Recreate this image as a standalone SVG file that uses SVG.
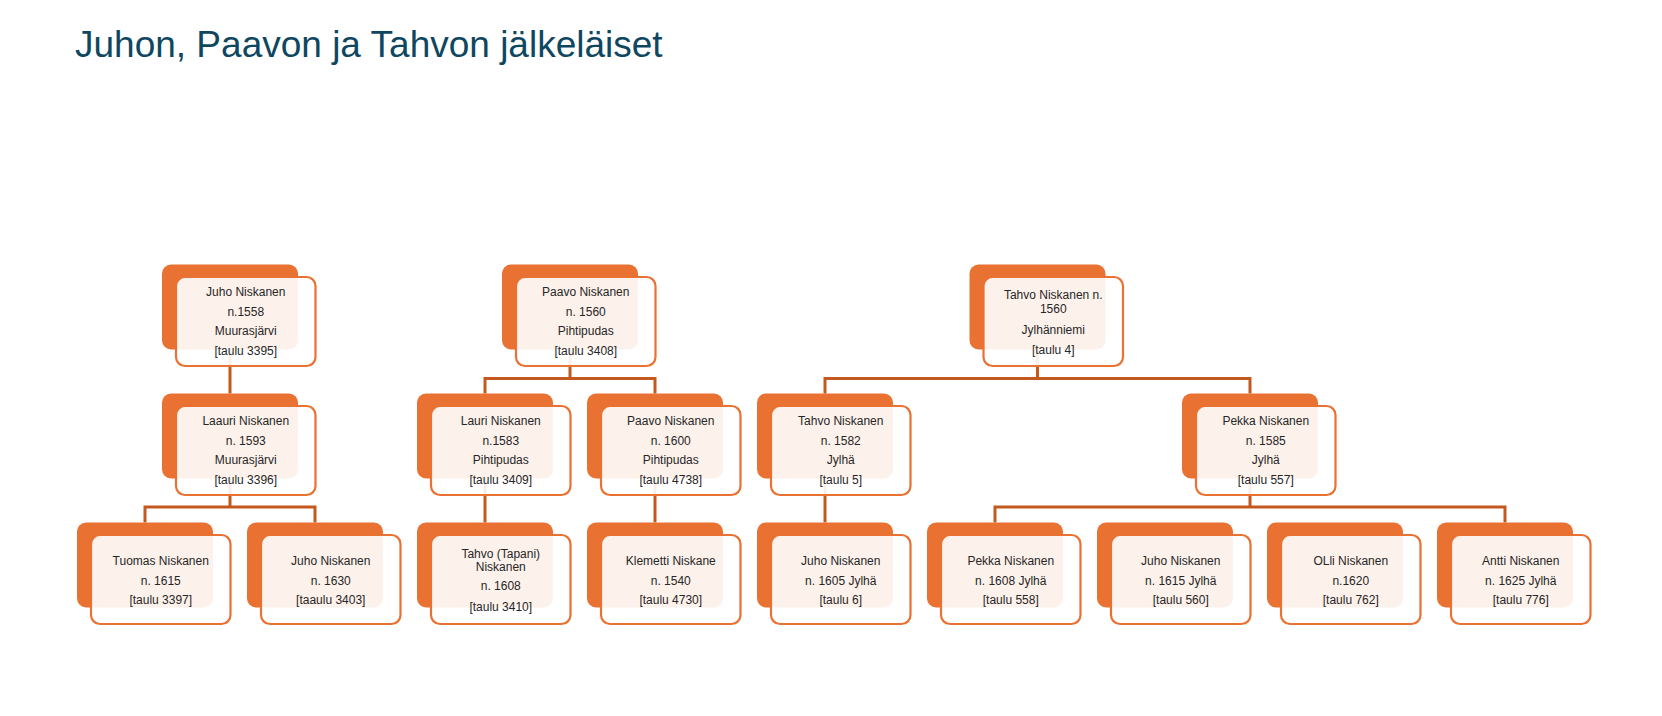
<svg xmlns="http://www.w3.org/2000/svg" width="1662" height="716" viewBox="0 0 1662 716">
<style>
.bk{fill:#E97132}
.fr{fill:#FFFFFF;fill-opacity:0.9;stroke:#E97132;stroke-width:2.2}
.t{font-family:"Liberation Sans",Arial,sans-serif;font-size:12px;fill:#262626;text-anchor:middle}
.title{font-family:"Liberation Sans",Arial,sans-serif;font-size:37px;fill:#0F4761}
.c{fill:none;stroke:#C4591F;stroke-width:3}
</style>
<rect width="1662" height="716" fill="#FFFFFF"/>
<text class="title" x="75" y="57">Juhon, Paavon ja Tahvon jälkeläiset</text>
<g id="connectors">
<path class="c" d="M230 349.5V393.5"/>
<path class="c" d="M570 349.5V378.5M485 393.5V378.5H655V393.5"/>
<path class="c" d="M1037.5 349.5V378.5M825 393.5V378.5H1250V393.5"/>
<path class="c" d="M230 478.5V507M145 522.5V507H315V522.5"/>
<path class="c" d="M485 478.5V522.5"/>
<path class="c" d="M655 478.5V522.5"/>
<path class="c" d="M825 478.5V522.5"/>
<path class="c" d="M1250 478.5V507M995 522.5V507H1505V522.5"/>
</g>
<g id="n-juho">
<rect class="bk" x="162" y="264.5" width="136" height="85" rx="9"/>
<rect class="fr" x="176" y="277" width="139.5" height="89" rx="9"/>
<text class="t"><tspan x="245.75" y="296">Juho Niskanen</tspan><tspan x="245.75" y="315.5">n.1558</tspan><tspan x="245.75" y="335">Muurasjärvi</tspan><tspan x="245.75" y="354.5">[taulu 3395]</tspan></text>
</g>
<g id="n-paavo">
<rect class="bk" x="502" y="264.5" width="136" height="85" rx="9"/>
<rect class="fr" x="516" y="277" width="139.5" height="89" rx="9"/>
<text class="t"><tspan x="585.75" y="296">Paavo Niskanen</tspan><tspan x="585.75" y="315.5">n. 1560</tspan><tspan x="585.75" y="335">Pihtipudas</tspan><tspan x="585.75" y="354.5">[taulu 3408]</tspan></text>
</g>
<g id="n-tahvo">
<rect class="bk" x="969.5" y="264.5" width="136" height="85" rx="9"/>
<rect class="fr" x="983.5" y="277" width="139.5" height="89" rx="9"/>
<text class="t"><tspan x="1053.25" y="299.3">Tahvo Niskanen n.</tspan><tspan x="1053.25" y="313.3">1560</tspan><tspan x="1053.25" y="334.3">Jylhänniemi</tspan><tspan x="1053.25" y="353.6">[taulu 4]</tspan></text>
</g>
<g id="n-laauri">
<rect class="bk" x="162" y="393.5" width="136" height="85" rx="9"/>
<rect class="fr" x="176" y="406" width="139.5" height="89" rx="9"/>
<text class="t"><tspan x="245.75" y="425">Laauri Niskanen</tspan><tspan x="245.75" y="444.5">n. 1593</tspan><tspan x="245.75" y="464">Muurasjärvi</tspan><tspan x="245.75" y="483.5">[taulu 3396]</tspan></text>
</g>
<g id="n-lauri">
<rect class="bk" x="417" y="393.5" width="136" height="85" rx="9"/>
<rect class="fr" x="431" y="406" width="139.5" height="89" rx="9"/>
<text class="t"><tspan x="500.75" y="425">Lauri Niskanen</tspan><tspan x="500.75" y="444.5">n.1583</tspan><tspan x="500.75" y="464">Pihtipudas</tspan><tspan x="500.75" y="483.5">[taulu 3409]</tspan></text>
</g>
<g id="n-paavo2">
<rect class="bk" x="587" y="393.5" width="136" height="85" rx="9"/>
<rect class="fr" x="601" y="406" width="139.5" height="89" rx="9"/>
<text class="t"><tspan x="670.75" y="425">Paavo Niskanen</tspan><tspan x="670.75" y="444.5">n. 1600</tspan><tspan x="670.75" y="464">Pihtipudas</tspan><tspan x="670.75" y="483.5">[taulu 4738]</tspan></text>
</g>
<g id="n-tahvo2">
<rect class="bk" x="757" y="393.5" width="136" height="85" rx="9"/>
<rect class="fr" x="771" y="406" width="139.5" height="89" rx="9"/>
<text class="t"><tspan x="840.75" y="425">Tahvo Niskanen</tspan><tspan x="840.75" y="444.5">n. 1582</tspan><tspan x="840.75" y="464">Jylhä</tspan><tspan x="840.75" y="483.5">[taulu 5]</tspan></text>
</g>
<g id="n-pekka">
<rect class="bk" x="1182" y="393.5" width="136" height="85" rx="9"/>
<rect class="fr" x="1196" y="406" width="139.5" height="89" rx="9"/>
<text class="t"><tspan x="1265.75" y="425">Pekka Niskanen</tspan><tspan x="1265.75" y="444.5">n. 1585</tspan><tspan x="1265.75" y="464">Jylhä</tspan><tspan x="1265.75" y="483.5">[taulu 557]</tspan></text>
</g>
<g id="n-tuomas">
<rect class="bk" x="77" y="522.5" width="136" height="85" rx="9"/>
<rect class="fr" x="91" y="535" width="139.5" height="89" rx="9"/>
<text class="t"><tspan x="160.75" y="565">Tuomas Niskanen</tspan><tspan x="160.75" y="584.5">n. 1615</tspan><tspan x="160.75" y="604">[taulu 3397]</tspan></text>
</g>
<g id="n-juho3">
<rect class="bk" x="247" y="522.5" width="136" height="85" rx="9"/>
<rect class="fr" x="261" y="535" width="139.5" height="89" rx="9"/>
<text class="t"><tspan x="330.75" y="565">Juho Niskanen</tspan><tspan x="330.75" y="584.5">n. 1630</tspan><tspan x="330.75" y="604">[taaulu 3403]</tspan></text>
</g>
<g id="n-tahvo-tapani">
<rect class="bk" x="417" y="522.5" width="136" height="85" rx="9"/>
<rect class="fr" x="431" y="535" width="139.5" height="89" rx="9"/>
<text class="t"><tspan x="500.75" y="557.6">Tahvo (Tapani)</tspan><tspan x="500.75" y="571">Niskanen</tspan><tspan x="500.75" y="590.3">n. 1608</tspan><tspan x="500.75" y="611">[taulu 3410]</tspan></text>
</g>
<g id="n-klemetti">
<rect class="bk" x="587" y="522.5" width="136" height="85" rx="9"/>
<rect class="fr" x="601" y="535" width="139.5" height="89" rx="9"/>
<text class="t"><tspan x="670.75" y="565">Klemetti Niskane</tspan><tspan x="670.75" y="584.5">n. 1540</tspan><tspan x="670.75" y="604">[taulu 4730]</tspan></text>
</g>
<g id="n-juho-jylha">
<rect class="bk" x="757" y="522.5" width="136" height="85" rx="9"/>
<rect class="fr" x="771" y="535" width="139.5" height="89" rx="9"/>
<text class="t"><tspan x="840.75" y="565">Juho Niskanen</tspan><tspan x="840.75" y="584.5">n. 1605 Jylhä</tspan><tspan x="840.75" y="604">[taulu 6]</tspan></text>
</g>
<g id="n-pekka3">
<rect class="bk" x="927" y="522.5" width="136" height="85" rx="9"/>
<rect class="fr" x="941" y="535" width="139.5" height="89" rx="9"/>
<text class="t"><tspan x="1010.75" y="565">Pekka Niskanen</tspan><tspan x="1010.75" y="584.5">n. 1608 Jylhä</tspan><tspan x="1010.75" y="604">[taulu 558]</tspan></text>
</g>
<g id="n-juho4">
<rect class="bk" x="1097" y="522.5" width="136" height="85" rx="9"/>
<rect class="fr" x="1111" y="535" width="139.5" height="89" rx="9"/>
<text class="t"><tspan x="1180.75" y="565">Juho Niskanen</tspan><tspan x="1180.75" y="584.5">n. 1615 Jylhä</tspan><tspan x="1180.75" y="604">[taulu 560]</tspan></text>
</g>
<g id="n-olli">
<rect class="bk" x="1267" y="522.5" width="136" height="85" rx="9"/>
<rect class="fr" x="1281" y="535" width="139.5" height="89" rx="9"/>
<text class="t"><tspan x="1350.75" y="565">OLli Niskanen</tspan><tspan x="1350.75" y="584.5">n.1620</tspan><tspan x="1350.75" y="604">[taulu 762]</tspan></text>
</g>
<g id="n-antti">
<rect class="bk" x="1437" y="522.5" width="136" height="85" rx="9"/>
<rect class="fr" x="1451" y="535" width="139.5" height="89" rx="9"/>
<text class="t"><tspan x="1520.75" y="565">Antti Niskanen</tspan><tspan x="1520.75" y="584.5">n. 1625 Jylhä</tspan><tspan x="1520.75" y="604">[taulu 776]</tspan></text>
</g>
</svg>
